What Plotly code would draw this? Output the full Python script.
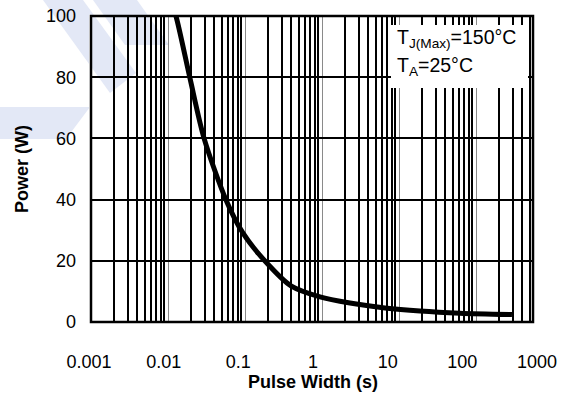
import plotly.graph_objects as go

# ---- data ----
decade_ticks = [0.001, 0.01, 0.1, 1, 10, 100, 1000]
decade_labels = ["0.001", "0.01", "0.1", "1", "10", "100", "1000"]
power_ticks = [0, 20, 40, 60, 80, 100]
power_labels = ["0", "20", "40", "60", "80", "100"]

pulse_width_s = [0.0129, 0.0146, 0.0225, 0.0347, 0.0684, 0.115, 0.234, 0.507,
                 1.24, 3.13, 9.2, 27.1, 93, 462]
power_w = [103.6, 100.0, 79.7, 60.1, 39.9, 29.1, 19.6, 11.8,
           8.2, 6.2, 4.6, 3.6, 2.9, 2.45]

grid_decades = [0.01, 0.1, 1, 10, 100]
grid_minor = [m * 10.0 ** k for k in range(-3, 3) for m in range(2, 10)]

FONT = "Liberation Sans, Arial, sans-serif"
W, H = 585, 394
L, R, T, B = 89, 48, 16, 72
PW = W - L - R   # 448
PH = H - T - B   # 306


def px(x):
    return (x - L) / PW


def py(y):
    return (H - B - y) / PH


fig = go.Figure()
# invisible trace for the grid axis (main subplot)
fig.add_trace(go.Scatter(x=[0.01], y=[-10], mode="markers", marker=dict(opacity=0),
                         xaxis="x", yaxis="y", hoverinfo="skip", showlegend=False))
# the power curve, on the labelled axis
fig.add_trace(go.Scatter(
    x=pulse_width_s, y=power_w, mode="lines",
    line=dict(color="black", width=5, shape="spline", smoothing=0.8),
    xaxis="x2", yaxis="y", hoverinfo="skip", showlegend=False))

wm = "#e3e8f6"


def poly(pts):
    return "M " + " L ".join(f"{px(a):.5f},{py(b):.5f}" for a, b in pts) + " Z"


shapes = [
    dict(type="path", xref="paper", yref="paper", layer="below", fillcolor=wm, line=dict(width=0),
         path=poly([(43, 0), (83, 0), (136, 73), (110, 93)])),
    dict(type="path", xref="paper", yref="paper", layer="below", fillcolor=wm, line=dict(width=0),
         path=poly([(93, 0), (137, 0), (169, 45), (125, 45)])),
    dict(type="path", xref="paper", yref="paper", layer="below", fillcolor=wm, line=dict(width=0),
         path=poly([(0, 107), (90, 107), (66, 139), (0, 139)])),
    # white legend box
    dict(type="rect", xref="paper", yref="paper", layer="above", fillcolor="white", line=dict(width=0),
         x0=px(391), x1=px(528), y0=py(88), y1=py(25)),
    # cover grid overflow outside the frame
    dict(type="rect", xref="paper", yref="paper", layer="above", fillcolor="white", line=dict(width=0),
         x0=0, x1=px(90.5), y0=-0.005, y1=1.005),
    dict(type="rect", xref="paper", yref="paper", layer="above", fillcolor="white", line=dict(width=0),
         x0=px(533), x1=1, y0=-0.005, y1=1.005),
    # frame
    dict(type="rect", xref="paper", yref="paper", layer="above", fillcolor="rgba(0,0,0,0)",
         line=dict(color="black", width=2.5),
         x0=px(91), x1=px(533), y0=0, y1=1),
]

fig.update_layout(
    template="none",
    width=W, height=H,
    margin=dict(l=L, r=R, t=T, b=B, pad=0, autoexpand=False),
    paper_bgcolor="white", plot_bgcolor="rgba(0,0,0,0)",
    font=dict(family=FONT, size=18, color="black"),
    showlegend=False,
    shapes=shapes,
    # grid axis: 77 px per decade starting at the frame's left edge
    xaxis=dict(type="log", range=[-3 - 2 / 77, -3 + 446 / 77], automargin=False,
               tickmode="array", tickvals=grid_decades, showticklabels=False, ticks="",
               showgrid=True, gridcolor="#8a8a8a", gridwidth=1.3, zeroline=False, showline=False,
               minor=dict(tickmode="array", tickvals=grid_minor, showgrid=True,
                          gridcolor="black", gridwidth=2.2, ticks="")),
    # labelled axis
    xaxis2=dict(type="log", overlaying="x", anchor="y", side="bottom", range=[-3, 3],
                automargin=False, tickmode="array", tickvals=decade_ticks,
                ticktext=decade_labels, showgrid=False, zeroline=False, showline=False,
                ticks="", ticklabelstandoff=27,
                title=dict(text="<b>Pulse Width (s)</b>", standoff=3,
                           font=dict(family=FONT, size=18, color="black"))),
    yaxis=dict(range=[0, 100], automargin=False, tickmode="array", tickvals=power_ticks,
               ticktext=power_labels,
               showgrid=True, gridcolor="black", gridwidth=2.2, zeroline=False, showline=False,
               ticks="", ticklabelstandoff=12,
               title=dict(text="<b>Power (W)</b>", standoff=12,
                          font=dict(family=FONT, size=18, color="black"))),
    annotations=[
        dict(xref="paper", yref="paper", x=px(395), y=py(38.5), xanchor="left", yanchor="middle",
             text="T<sub>J(Max)</sub>=150°C", showarrow=False,
             font=dict(family=FONT, size=19.5, color="black")),
        dict(xref="paper", yref="paper", x=px(395), y=py(66.5), xanchor="left", yanchor="middle",
             text="T<sub>A</sub>=25°C", showarrow=False,
             font=dict(family=FONT, size=19.5, color="black")),
    ],
)

fig.write_html("out.html", config={"displayModeBar": False},
               post_script="document.body.style.margin='0px';")
